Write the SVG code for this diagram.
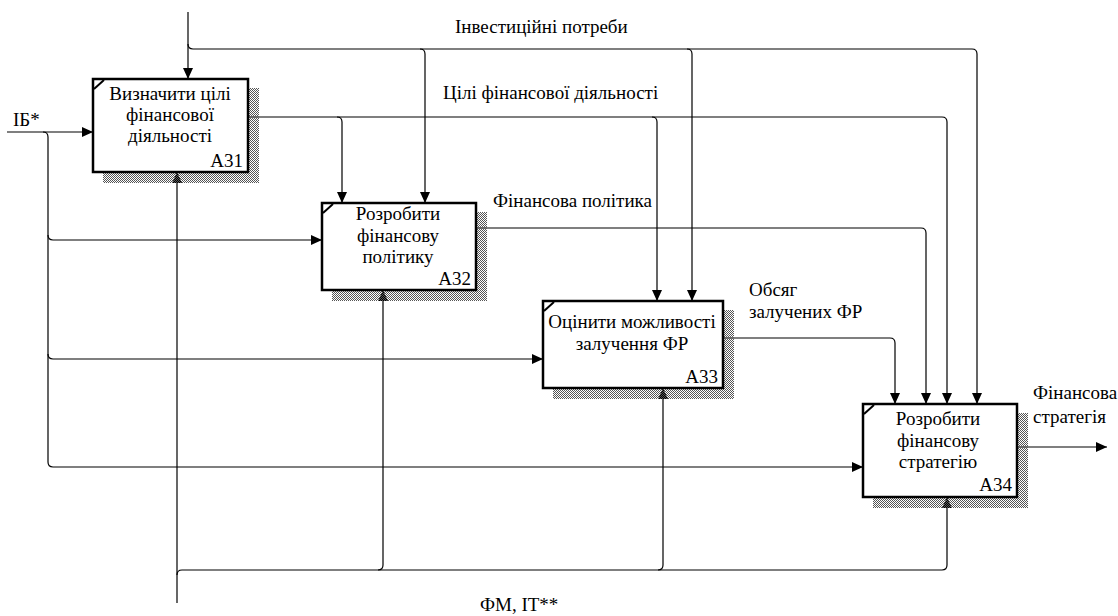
<svg xmlns="http://www.w3.org/2000/svg" width="1118" height="616" viewBox="0 0 1118 616" font-family="'Liberation Serif', 'DejaVu Serif', serif">
  <defs>
    <pattern id="dither" width="2" height="2" patternUnits="userSpaceOnUse">
      <rect x="0" y="0" width="1" height="1" fill="#555"/>
      <rect x="1" y="1" width="1" height="1" fill="#555"/>
    </pattern>
    <marker id="arrow" markerUnits="userSpaceOnUse" markerWidth="11" markerHeight="10" viewBox="0 0 11 10" refX="11" refY="5" orient="auto">
      <path d="M0,0 L11,5 L0,10 z" fill="#000"/>
    </marker>
  </defs>
  <style>
    .box { fill: #fff; stroke: #000; stroke-width: 2.5; }
    .shadow { fill: url(#dither); }
    .tick { stroke: #000; stroke-width: 2; }
    .line { fill: none; stroke: #000; stroke-width: 1.2; }
    .arr { marker-end: url(#arrow); }
    text { font-family: 'Liberation Serif', 'DejaVu Serif', serif; font-size: 19px; fill: #000; }
    .c { text-anchor: middle; }
    .r { text-anchor: end; }
  </style>
  <rect width="1118" height="616" fill="#fff"/>

  <!-- connectors -->
  <g id="connectors">
    <!-- control from above and its branch (Інвестиційні потреби) -->
    <path class="line arr" d="M188,12 V79"/>
    <path class="line arr" d="M188,44 Q188,49 193,49 H972 Q977,49 977,54 V404"/>
    <path class="line arr" d="M420,49 Q425,49 425,54 V203"/>
    <path class="line arr" d="M687,49 Q692,49 692,54 V301"/>
    <!-- A31 output -->
    <path class="line arr" d="M248,117 H942 Q947,117 947,122 V404"/>
    <path class="line arr" d="M337,117 Q342,117 342,122 V203"/>
    <path class="line arr" d="M652,117 Q657,117 657,122 V301"/>
    <!-- A32 output -->
    <path class="line arr" d="M476,228 H921 Q926,228 926,233 V404"/>
    <!-- A33 output -->
    <path class="line arr" d="M723,338 H890 Q895,338 895,343 V404"/>
    <!-- A34 output -->
    <path class="line arr" d="M1017,447 H1107"/>
    <!-- input ІБ* -->
    <path class="line arr" d="M7,132 H93"/>
    <path class="line arr" d="M43,132 Q48,132 48,137 V462 Q48,467 53,467 H863"/>
    <path class="line arr" d="M48,235 Q48,240 53,240 H322"/>
    <path class="line arr" d="M48,354 Q48,359 53,359 H543"/>
    <!-- mechanism ФМ, ІТ** -->
    <path class="line arr" d="M177,603 V172"/>
    <path class="line arr" d="M177,575 Q177,570 182,570 H942 Q947,570 947,565 V497"/>
    <path class="line arr" d="M378,570 Q383,570 383,565 V290"/>
    <path class="line arr" d="M658,570 Q663,570 663,565 V388"/>
  </g>

  <!-- arrow labels -->
  <g id="labels">
    <text x="13" y="126">ІБ*</text>
    <text x="455" y="33">Інвестиційні потреби</text>
    <text x="443" y="99">Цілі фінансової діяльності</text>
    <text x="493" y="207">Фінансова політика</text>
    <text x="749" y="296">Обсяг</text>
    <text x="749" y="318">залучених ФР</text>
    <text x="1033" y="399">Фінансова</text>
    <text x="1033" y="423">стратегія</text>
    <text x="480" y="611">ФМ, ІТ**</text>
  </g>

  <!-- A31 -->
  <g id="A31">
    <rect class="shadow" x="249" y="88" width="10" height="95"/>
    <rect class="shadow" x="103" y="173" width="146" height="10"/>
    <rect class="box" x="93" y="79" width="155" height="93"/>
    <line class="tick" x1="94" y1="89" x2="104" y2="80"/>
    <text class="c" x="170" y="100">Визначити цілі</text>
    <text class="c" x="170" y="121">фінансової</text>
    <text class="c" x="170" y="142">діяльності</text>
    <text class="r" x="243" y="167">A31</text>
  </g>

  <!-- A32 -->
  <g id="A32">
    <rect class="shadow" x="477" y="212" width="10" height="89"/>
    <rect class="shadow" x="332" y="291" width="145" height="10"/>
    <rect class="box" x="322" y="203" width="154" height="87"/>
    <line class="tick" x1="323" y1="213" x2="333" y2="204"/>
    <text class="c" x="398" y="220">Розробити</text>
    <text class="c" x="398" y="242">фінансову</text>
    <text class="c" x="398" y="263">політику</text>
    <text class="r" x="471" y="285">A32</text>
  </g>

  <!-- A33 -->
  <g id="A33">
    <rect class="shadow" x="724" y="310" width="10" height="89"/>
    <rect class="shadow" x="553" y="389" width="171" height="10"/>
    <rect class="box" x="543" y="301" width="180" height="87"/>
    <line class="tick" x1="544" y1="311" x2="554" y2="302"/>
    <text class="c" x="632" y="328">Оцінити можливості</text>
    <text class="c" x="632" y="350">залучення ФР</text>
    <text class="r" x="718" y="383">A33</text>
  </g>

  <!-- A34 -->
  <g id="A34">
    <rect class="shadow" x="1018" y="413" width="10" height="95"/>
    <rect class="shadow" x="873" y="498" width="145" height="10"/>
    <rect class="box" x="863" y="404" width="154" height="93"/>
    <line class="tick" x1="864" y1="414" x2="874" y2="405"/>
    <text class="c" x="938" y="425">Розробити</text>
    <text class="c" x="938" y="447">фінансову</text>
    <text class="c" x="938" y="468">стратегію</text>
    <text class="r" x="1012" y="491">A34</text>
  </g>
</svg>
